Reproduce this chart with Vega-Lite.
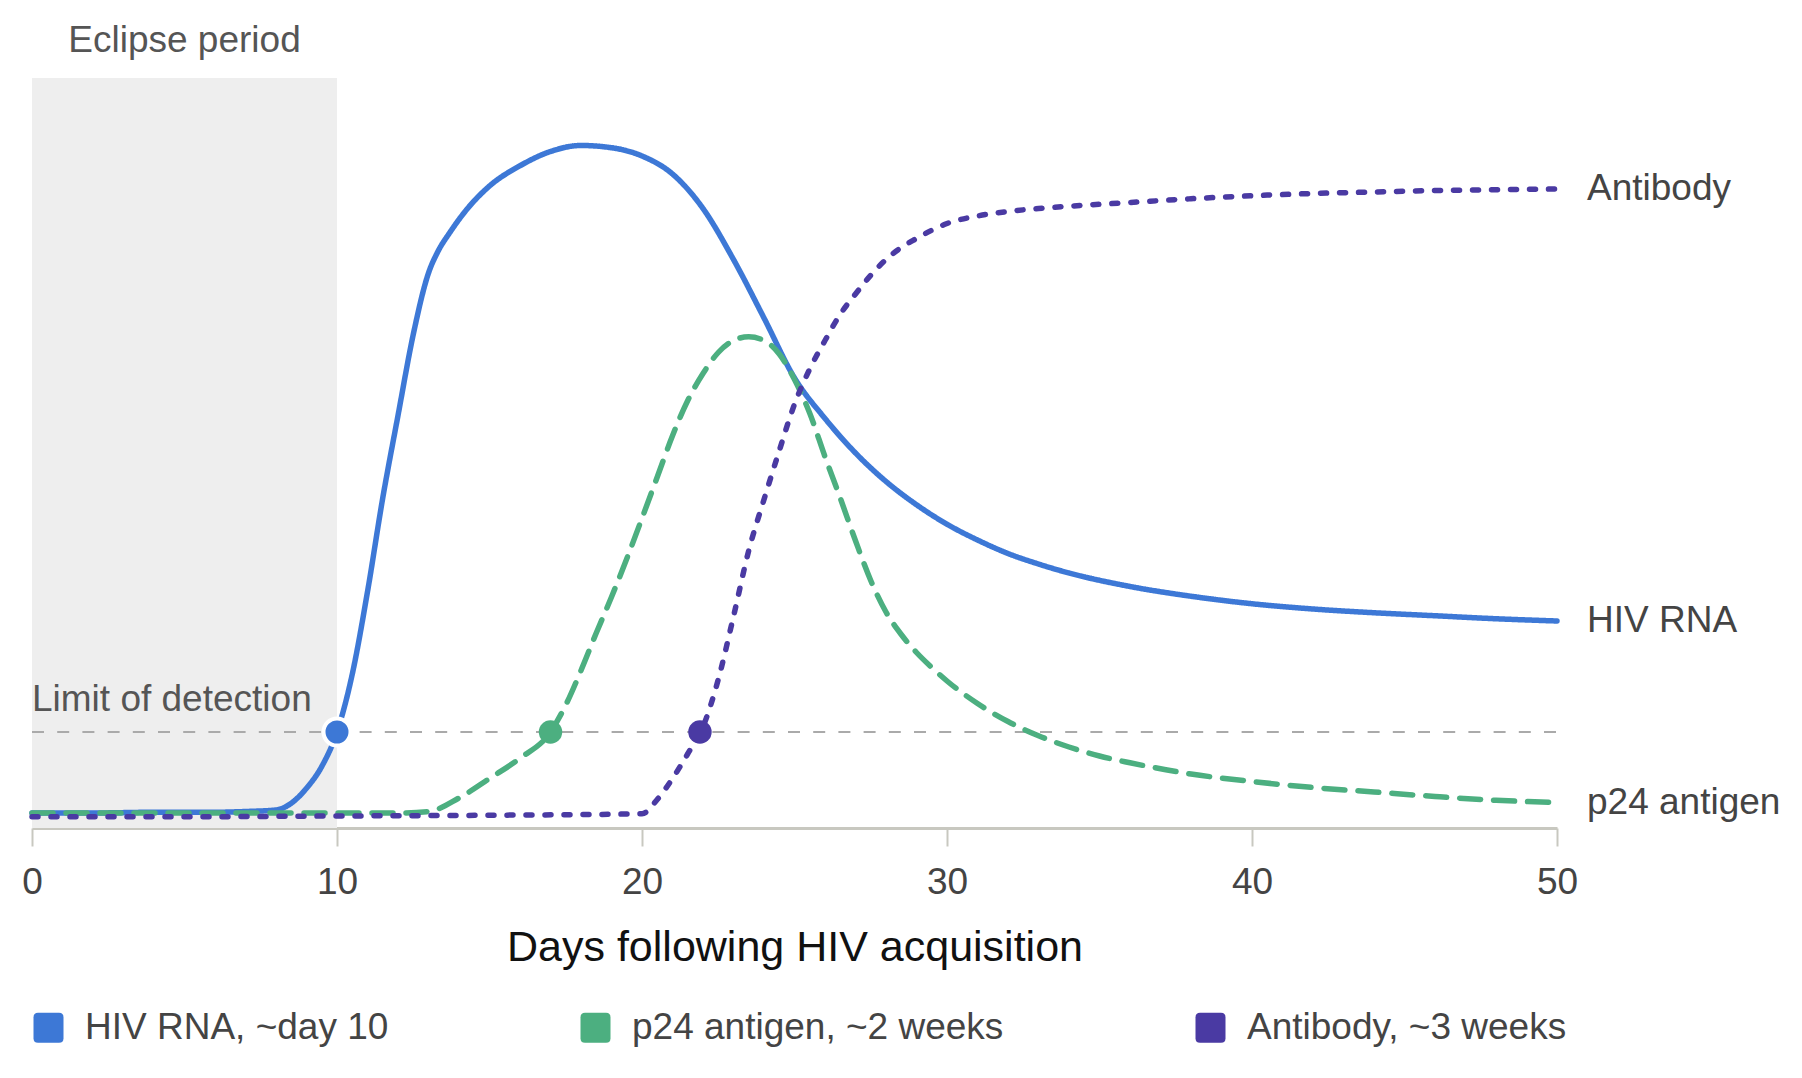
{
  "$schema": "https://vega.github.io/schema/vega-lite/v6.json",
  "width": 1525,
  "height": 750,
  "autosize": {"type": "none"},
  "padding": {"left": 32, "top": 78, "right": 245, "bottom": 250},
  "background": "white",
  "config": {"view": {"stroke": null}, "font": "Liberation Sans"},
  "datasets": {
    "eclipse": [{"day": 0, "day2": 10, "value": 0, "value2": 100}],
    "limit": [{"day": 0, "day2": 50, "value": 12.8}],
    "curves": [
      {"series": "HIV RNA, ~day 10", "day": 0, "value": 2.0},
      {"series": "HIV RNA, ~day 10", "day": 2, "value": 2.0},
      {"series": "HIV RNA, ~day 10", "day": 4, "value": 2.1},
      {"series": "HIV RNA, ~day 10", "day": 6, "value": 2.1},
      {"series": "HIV RNA, ~day 10", "day": 7, "value": 2.2},
      {"series": "HIV RNA, ~day 10", "day": 8, "value": 2.4},
      {"series": "HIV RNA, ~day 10", "day": 8.5, "value": 3.3},
      {"series": "HIV RNA, ~day 10", "day": 9, "value": 5.3},
      {"series": "HIV RNA, ~day 10", "day": 9.5, "value": 8.2},
      {"series": "HIV RNA, ~day 10", "day": 10, "value": 12.8},
      {"series": "HIV RNA, ~day 10", "day": 10.5, "value": 20.5},
      {"series": "HIV RNA, ~day 10", "day": 11, "value": 31.5},
      {"series": "HIV RNA, ~day 10", "day": 11.5, "value": 44},
      {"series": "HIV RNA, ~day 10", "day": 12, "value": 55},
      {"series": "HIV RNA, ~day 10", "day": 12.5, "value": 65.8},
      {"series": "HIV RNA, ~day 10", "day": 13, "value": 74},
      {"series": "HIV RNA, ~day 10", "day": 13.3, "value": 76.8},
      {"series": "HIV RNA, ~day 10", "day": 13.7, "value": 79.4},
      {"series": "HIV RNA, ~day 10", "day": 14.2, "value": 82.2},
      {"series": "HIV RNA, ~day 10", "day": 15, "value": 85.6},
      {"series": "HIV RNA, ~day 10", "day": 16, "value": 88.3},
      {"series": "HIV RNA, ~day 10", "day": 17, "value": 90.2},
      {"series": "HIV RNA, ~day 10", "day": 18, "value": 91.0},
      {"series": "HIV RNA, ~day 10", "day": 19, "value": 90.7},
      {"series": "HIV RNA, ~day 10", "day": 20, "value": 89.6},
      {"series": "HIV RNA, ~day 10", "day": 21, "value": 87.2},
      {"series": "HIV RNA, ~day 10", "day": 22, "value": 82.6},
      {"series": "HIV RNA, ~day 10", "day": 23, "value": 75.8},
      {"series": "HIV RNA, ~day 10", "day": 24, "value": 68.0},
      {"series": "HIV RNA, ~day 10", "day": 25, "value": 60.0},
      {"series": "HIV RNA, ~day 10", "day": 26, "value": 54.6},
      {"series": "HIV RNA, ~day 10", "day": 27, "value": 50.0},
      {"series": "HIV RNA, ~day 10", "day": 28, "value": 46.2},
      {"series": "HIV RNA, ~day 10", "day": 29, "value": 43.1},
      {"series": "HIV RNA, ~day 10", "day": 30, "value": 40.5},
      {"series": "HIV RNA, ~day 10", "day": 31, "value": 38.4},
      {"series": "HIV RNA, ~day 10", "day": 32, "value": 36.6},
      {"series": "HIV RNA, ~day 10", "day": 33, "value": 35.2},
      {"series": "HIV RNA, ~day 10", "day": 34, "value": 34.0},
      {"series": "HIV RNA, ~day 10", "day": 36, "value": 32.2},
      {"series": "HIV RNA, ~day 10", "day": 38, "value": 30.9},
      {"series": "HIV RNA, ~day 10", "day": 40, "value": 29.9},
      {"series": "HIV RNA, ~day 10", "day": 42, "value": 29.2},
      {"series": "HIV RNA, ~day 10", "day": 44, "value": 28.7},
      {"series": "HIV RNA, ~day 10", "day": 46, "value": 28.3},
      {"series": "HIV RNA, ~day 10", "day": 48, "value": 27.9},
      {"series": "HIV RNA, ~day 10", "day": 50, "value": 27.6},
      {"series": "p24 antigen, ~2 weeks", "day": 0, "value": 2.0},
      {"series": "p24 antigen, ~2 weeks", "day": 4, "value": 2.0},
      {"series": "p24 antigen, ~2 weeks", "day": 8, "value": 2.0},
      {"series": "p24 antigen, ~2 weeks", "day": 12, "value": 2.0},
      {"series": "p24 antigen, ~2 weeks", "day": 13, "value": 2.2},
      {"series": "p24 antigen, ~2 weeks", "day": 14, "value": 4.0},
      {"series": "p24 antigen, ~2 weeks", "day": 15, "value": 6.6},
      {"series": "p24 antigen, ~2 weeks", "day": 16, "value": 9.3},
      {"series": "p24 antigen, ~2 weeks", "day": 17, "value": 12.8},
      {"series": "p24 antigen, ~2 weeks", "day": 17.5, "value": 16.4},
      {"series": "p24 antigen, ~2 weeks", "day": 18, "value": 21},
      {"series": "p24 antigen, ~2 weeks", "day": 18.5, "value": 26.0},
      {"series": "p24 antigen, ~2 weeks", "day": 19, "value": 30.8},
      {"series": "p24 antigen, ~2 weeks", "day": 19.5, "value": 35.9},
      {"series": "p24 antigen, ~2 weeks", "day": 20, "value": 41.3},
      {"series": "p24 antigen, ~2 weeks", "day": 20.5, "value": 46.8},
      {"series": "p24 antigen, ~2 weeks", "day": 21, "value": 52.3},
      {"series": "p24 antigen, ~2 weeks", "day": 21.5, "value": 57.0},
      {"series": "p24 antigen, ~2 weeks", "day": 22, "value": 60.6},
      {"series": "p24 antigen, ~2 weeks", "day": 22.5, "value": 63.4},
      {"series": "p24 antigen, ~2 weeks", "day": 23, "value": 65.0},
      {"series": "p24 antigen, ~2 weeks", "day": 23.5, "value": 65.5},
      {"series": "p24 antigen, ~2 weeks", "day": 24, "value": 65.0},
      {"series": "p24 antigen, ~2 weeks", "day": 24.5, "value": 63.2},
      {"series": "p24 antigen, ~2 weeks", "day": 25, "value": 59.8},
      {"series": "p24 antigen, ~2 weeks", "day": 25.5, "value": 55.3},
      {"series": "p24 antigen, ~2 weeks", "day": 26, "value": 49.5},
      {"series": "p24 antigen, ~2 weeks", "day": 26.5, "value": 44.0},
      {"series": "p24 antigen, ~2 weeks", "day": 27, "value": 38.3},
      {"series": "p24 antigen, ~2 weeks", "day": 27.5, "value": 33.0},
      {"series": "p24 antigen, ~2 weeks", "day": 28, "value": 28.8},
      {"series": "p24 antigen, ~2 weeks", "day": 28.5, "value": 25.8},
      {"series": "p24 antigen, ~2 weeks", "day": 29, "value": 23.4},
      {"series": "p24 antigen, ~2 weeks", "day": 29.5, "value": 21.4},
      {"series": "p24 antigen, ~2 weeks", "day": 30, "value": 19.6},
      {"series": "p24 antigen, ~2 weeks", "day": 31, "value": 16.6},
      {"series": "p24 antigen, ~2 weeks", "day": 32, "value": 14.2},
      {"series": "p24 antigen, ~2 weeks", "day": 33, "value": 12.3},
      {"series": "p24 antigen, ~2 weeks", "day": 34, "value": 10.8},
      {"series": "p24 antigen, ~2 weeks", "day": 35, "value": 9.6},
      {"series": "p24 antigen, ~2 weeks", "day": 36, "value": 8.7},
      {"series": "p24 antigen, ~2 weeks", "day": 38, "value": 7.2},
      {"series": "p24 antigen, ~2 weeks", "day": 40, "value": 6.2},
      {"series": "p24 antigen, ~2 weeks", "day": 42, "value": 5.4},
      {"series": "p24 antigen, ~2 weeks", "day": 44, "value": 4.8},
      {"series": "p24 antigen, ~2 weeks", "day": 46, "value": 4.2},
      {"series": "p24 antigen, ~2 weeks", "day": 48, "value": 3.7},
      {"series": "p24 antigen, ~2 weeks", "day": 50, "value": 3.4},
      {"series": "Antibody, ~3 weeks", "day": 0, "value": 1.5},
      {"series": "Antibody, ~3 weeks", "day": 5, "value": 1.5},
      {"series": "Antibody, ~3 weeks", "day": 10, "value": 1.6},
      {"series": "Antibody, ~3 weeks", "day": 15, "value": 1.7},
      {"series": "Antibody, ~3 weeks", "day": 20, "value": 1.9},
      {"series": "Antibody, ~3 weeks", "day": 20.5, "value": 3.8},
      {"series": "Antibody, ~3 weeks", "day": 21, "value": 6.6},
      {"series": "Antibody, ~3 weeks", "day": 21.5, "value": 9.9},
      {"series": "Antibody, ~3 weeks", "day": 22, "value": 13.5},
      {"series": "Antibody, ~3 weeks", "day": 22.5, "value": 19.8},
      {"series": "Antibody, ~3 weeks", "day": 23, "value": 28.2},
      {"series": "Antibody, ~3 weeks", "day": 23.5, "value": 37.0},
      {"series": "Antibody, ~3 weeks", "day": 24, "value": 43.8},
      {"series": "Antibody, ~3 weeks", "day": 24.5, "value": 50.3},
      {"series": "Antibody, ~3 weeks", "day": 25, "value": 56.5},
      {"series": "Antibody, ~3 weeks", "day": 25.5, "value": 61.2},
      {"series": "Antibody, ~3 weeks", "day": 26, "value": 65.0},
      {"series": "Antibody, ~3 weeks", "day": 26.5, "value": 68.5},
      {"series": "Antibody, ~3 weeks", "day": 27, "value": 71.2},
      {"series": "Antibody, ~3 weeks", "day": 27.5, "value": 73.7},
      {"series": "Antibody, ~3 weeks", "day": 28, "value": 75.8},
      {"series": "Antibody, ~3 weeks", "day": 28.5, "value": 77.4},
      {"series": "Antibody, ~3 weeks", "day": 29, "value": 78.6},
      {"series": "Antibody, ~3 weeks", "day": 29.5, "value": 79.7},
      {"series": "Antibody, ~3 weeks", "day": 30, "value": 80.6},
      {"series": "Antibody, ~3 weeks", "day": 31, "value": 81.6},
      {"series": "Antibody, ~3 weeks", "day": 32, "value": 82.2},
      {"series": "Antibody, ~3 weeks", "day": 33, "value": 82.6},
      {"series": "Antibody, ~3 weeks", "day": 34, "value": 82.9},
      {"series": "Antibody, ~3 weeks", "day": 36, "value": 83.4},
      {"series": "Antibody, ~3 weeks", "day": 38, "value": 83.9},
      {"series": "Antibody, ~3 weeks", "day": 40, "value": 84.3},
      {"series": "Antibody, ~3 weeks", "day": 42, "value": 84.6},
      {"series": "Antibody, ~3 weeks", "day": 44, "value": 84.8},
      {"series": "Antibody, ~3 weeks", "day": 46, "value": 85.0},
      {"series": "Antibody, ~3 weeks", "day": 48, "value": 85.1},
      {"series": "Antibody, ~3 weeks", "day": 50, "value": 85.2}
    ],
    "detections": [
      {"series": "HIV RNA, ~day 10", "day": 10, "value": 12.8},
      {"series": "p24 antigen, ~2 weeks", "day": 17, "value": 12.8},
      {"series": "Antibody, ~3 weeks", "day": 21.9, "value": 12.8}
    ],
    "endLabels": [
      {"label": "Antibody", "day": 50, "value": 85.2},
      {"label": "HIV RNA", "day": 50, "value": 27.6},
      {"label": "p24 antigen", "day": 50, "value": 3.4}
    ],
    "eclipseLabel": [{"label": "Eclipse period", "day": 5, "value": 105}],
    "limitLabel": [{"label": "Limit of detection", "day": 0, "value": 17.1}]
  },
  "layer": [
    {
      "data": {"name": "eclipse"},
      "mark": {"type": "rect", "color": "#eeeeee"},
      "encoding": {
        "x": {
          "field": "day", "type": "quantitative",
          "scale": {"domain": [0, 50], "nice": false, "zero": false},
          "axis": {
            "title": "Days following HIV acquisition",
            "values": [0, 10, 20, 30, 40, 50],
            "grid": false,
            "domainColor": "#c8c8c0",
            "domainWidth": 3,
            "tickColor": "#c8c8c0",
            "tickWidth": 2,
            "tickSize": 18,
            "labelFontSize": 37,
            "labelColor": "#444444",
            "labelPadding": 18,
            "labelFont": "Liberation Sans",
            "labelFlush": false,
            "labelOverlap": false,
            "titleFontSize": 43,
            "titleColor": "#111111",
            "titleFontWeight": "normal",
            "titleFont": "Liberation Sans",
            "titlePadding": 26
          }
        },
        "x2": {"field": "day2"},
        "y": {"field": "value", "type": "quantitative", "scale": {"domain": [0, 100], "nice": false, "zero": false}, "axis": null},
        "y2": {"field": "value2"}
      }
    },
    {
      "data": {"name": "limit"},
      "mark": {"type": "rule", "color": "#aaaaaa", "strokeWidth": 2, "strokeDash": [12, 13.2]},
      "encoding": {
        "x": {"field": "day", "type": "quantitative"},
        "x2": {"field": "day2"},
        "y": {"field": "value", "type": "quantitative", "axis": null}
      }
    },
    {
      "data": {"name": "curves"},
      "mark": {"type": "line", "interpolate": "monotone", "strokeWidth": 5.5, "strokeCap": "round"},
      "encoding": {
        "x": {"field": "day", "type": "quantitative"},
        "y": {"field": "value", "type": "quantitative", "axis": null},
        "color": {
          "field": "series", "type": "nominal",
          "scale": {"domain": ["HIV RNA, ~day 10", "p24 antigen, ~2 weeks", "Antibody, ~3 weeks"], "range": ["#3d78d6", "#4caf80", "#4a3aa3"]},
          "legend": {
            "orient": "none",
            "legendX": -2,
            "legendY": 931,
            "direction": "horizontal",
            "title": null,
            "padding": 0,
            "symbolType": "M-1,-0.7 L-1,0.7 Q-1,1 -0.7,1 L0.7,1 Q1,1 1,0.7 L1,-0.7 Q1,-1 0.7,-1 L-0.7,-1 Q-1,-1 -1,-0.7 Z",
            "symbolSize": 900,
            "symbolStrokeWidth": 0,
            "labelFontSize": 37,
            "labelFont": "Liberation Sans",
            "labelColor": "#444444",
            "labelLimit": 0,
            "labelOffset": 18,
            "columnPadding": 188,
            "encode": {"symbols": {"update": {"fill": {"scale": "color", "field": "value"}, "strokeWidth": {"value": 0}, "opacity": {"value": 1}}}}
          }
        },
        "strokeDash": {
          "field": "series", "type": "nominal",
          "scale": {"domain": ["HIV RNA, ~day 10", "p24 antigen, ~2 weeks", "Antibody, ~3 weeks"], "range": [[1, 0], [21, 13], [6, 13]]},
          "legend": null
        }
      }
    },
    {
      "data": {"name": "detections"},
      "mark": {"type": "point", "filled": true, "shape": "circle", "stroke": "white", "opacity": 1},
      "encoding": {
        "x": {"field": "day", "type": "quantitative"},
        "y": {"field": "value", "type": "quantitative", "axis": null},
        "color": {"field": "series", "type": "nominal", "legend": null},
        "size": {"condition": {"test": "datum.series === 'HIV RNA, ~day 10'", "value": 729}, "value": 550},
        "strokeWidth": {"condition": {"test": "datum.series === 'HIV RNA, ~day 10'", "value": 4}, "value": 0}
      }
    },
    {
      "data": {"name": "endLabels"},
      "mark": {"type": "text", "align": "left", "baseline": "middle", "dx": 30, "fontSize": 37, "font": "Liberation Sans", "color": "#444444"},
      "encoding": {
        "x": {"field": "day", "type": "quantitative"},
        "y": {"field": "value", "type": "quantitative", "axis": null},
        "text": {"field": "label"}
      }
    },
    {
      "data": {"name": "eclipseLabel"},
      "mark": {"type": "text", "align": "center", "baseline": "middle", "fontSize": 37, "font": "Liberation Sans", "color": "#555555"},
      "encoding": {
        "x": {"field": "day", "type": "quantitative"},
        "y": {"field": "value", "type": "quantitative", "axis": null},
        "text": {"field": "label"}
      }
    },
    {
      "data": {"name": "limitLabel"},
      "mark": {"type": "text", "align": "left", "baseline": "middle", "fontSize": 37, "font": "Liberation Sans", "color": "#555555"},
      "encoding": {
        "x": {"field": "day", "type": "quantitative"},
        "y": {"field": "value", "type": "quantitative", "axis": null},
        "text": {"field": "label"}
      }
    }
  ]
}
